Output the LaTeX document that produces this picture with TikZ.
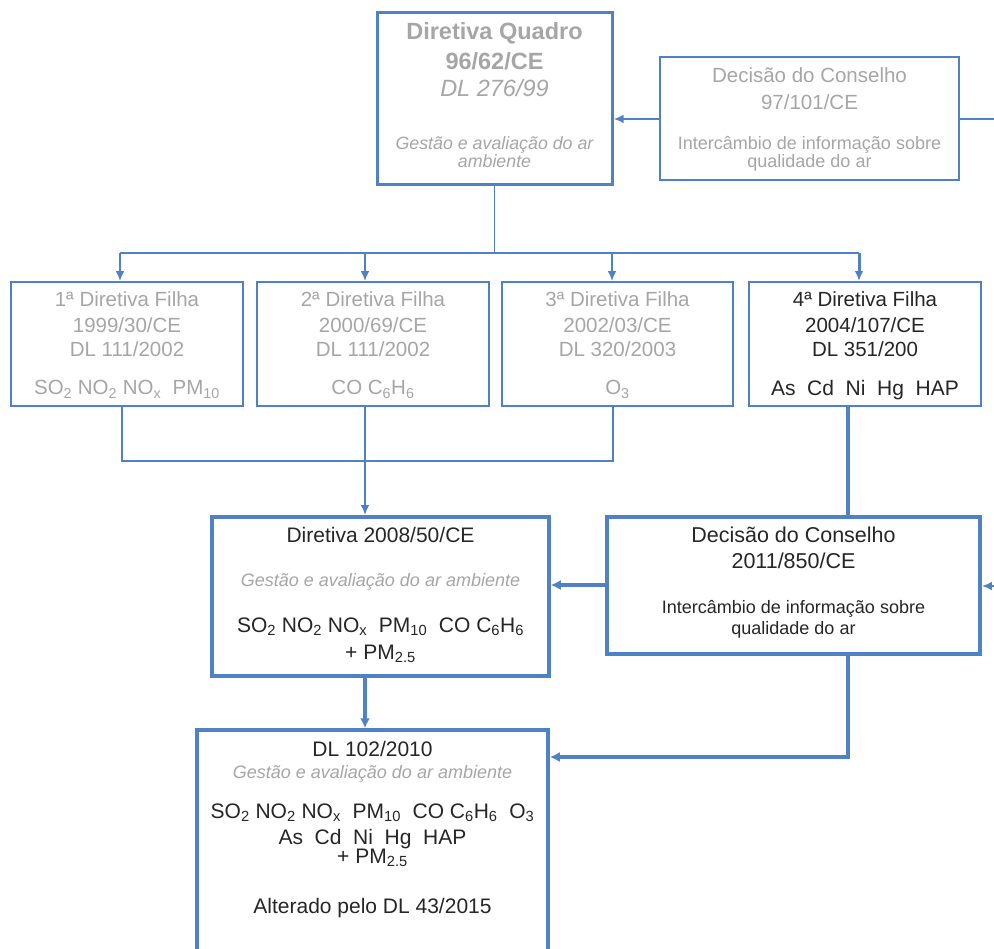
\documentclass[tikz,border=0pt]{standalone}
\usepackage{fontspec}
\setmainfont{Liberation Sans}
\usetikzlibrary{arrows.meta}
\definecolor{lnblue}{RGB}{79,129,199}
\definecolor{txgray}{RGB}{166,166,166}
\definecolor{txdark}{RGB}{38,38,38}
\newcommand\fsz[1]{\fontsize{#1}{#1}\selectfont}
\newcommand\sbs[1]{\textsubscript{#1}}
\begin{document}
\begin{tikzpicture}[x=1pt,y=-1pt,
  thinbox/.style={draw=lnblue,line width=1.5pt,fill=white,inner sep=0pt},
  thickbox/.style={draw=lnblue,line width=3.5pt,fill=white,inner sep=0pt},
  tl/.style={anchor=base,inner sep=0pt},
  gr/.style={tl,text=txgray},
  dk/.style={tl,text=txdark},
  thinln/.style={draw=lnblue,line width=1.5pt},
  thickln/.style={draw=lnblue,line width=3.5pt},
  arr/.style={thinln,line width=2.4pt,-{Latex[length=10pt,width=8.5pt]}},
  arrthick/.style={thickln,-{Latex[length=10pt,width=10pt]}}]
\useasboundingbox (0,0) rectangle (994,949);
\clip (0,0) rectangle (994,949);
\fill[white] (0,0) rectangle (994,949);

% boxes
\node[thickbox,line width=3pt,minimum width=235,minimum height=172] (quadro) at (494.5,99) {};
\node[thinbox,minimum width=299,minimum height=123] (dc97) at (809.5,118.5) {};
\node[thinbox,minimum width=232,minimum height=124] (f1) at (127,344) {};
\node[thinbox,minimum width=232,minimum height=124] (f2) at (373,344) {};
\node[thinbox,minimum width=231,minimum height=124] (f3) at (617.5,344) {};
\node[thinbox,line width=1.8pt,minimum width=232,minimum height=124] (f4) at (865,344) {};
\node[thickbox,minimum width=337,minimum height=159] (d08) at (380.5,596.5) {};
\node[thickbox,minimum width=373,minimum height=137] (d11) at (793.5,585.5) {};
\node[thickbox,minimum width=351,minimum height=240] (dl) at (372.5,850) {};

% texts: Quadro
\node[gr,font=\fsz{23.5}\bfseries] (q1) at (494.5,40) {Diretiva Quadro};
\node[gr,font=\fsz{23.5}\bfseries] (q2) at (494.5,70) {96/62/CE};
\node[gr,font=\fsz{23.5}\itshape] (q3) at (494.5,97) {DL 276/99};
\node[gr,font=\fsz{17.8}\itshape] (q4) at (494.5,150) {Gestão e avaliação do ar};
\node[gr,font=\fsz{17.8}\itshape] (q5) at (494.5,168) {ambiente};
% Decisao 97/101
\node[gr,font=\fsz{20.5}] (c1) at (809.5,83) {Decisão do Conselho};
\node[gr,font=\fsz{20.5}] (c2) at (809.5,110) {97/101/CE};
\node[gr,font=\fsz{18}] (c3) at (809.5,150) {Intercâmbio de informação sobre};
\node[gr,font=\fsz{18}] (c4) at (809.5,168) {qualidade do ar};
% Filhas
\node[gr,font=\fsz{20.5}] (a1) at (127,307) {1ª Diretiva Filha};
\node[gr,font=\fsz{20.5}] (a2) at (127,333) {1999/30/CE};
\node[gr,font=\fsz{20.5}] (a3) at (127,357) {DL 111/2002};
\node[gr,font=\fsz{20.5}] (a4) at (127,395) {SO\sbs{2} NO\sbs{2} NO\sbs{x}\ \ PM\sbs{10}};
\node[gr,font=\fsz{20.5}] (b1) at (373,307) {2ª Diretiva Filha};
\node[gr,font=\fsz{20.5}] (b2) at (373,333) {2000/69/CE};
\node[gr,font=\fsz{20.5}] (b3) at (373,357) {DL 111/2002};
\node[gr,font=\fsz{20.5}] (b4) at (373,395) {CO C\sbs{6}H\sbs{6}};
\node[gr,font=\fsz{20.5}] (e1) at (617.5,307) {3ª Diretiva Filha};
\node[gr,font=\fsz{20.5}] (e2) at (617.5,333) {2002/03/CE};
\node[gr,font=\fsz{20.5}] (e3) at (617.5,357) {DL 320/2003};
\node[gr,font=\fsz{20.5}] (e4) at (617.5,395) {O\sbs{3}};
\node[dk,font=\fsz{20.5}] (g1) at (865,307) {4ª Diretiva Filha};
\node[dk,font=\fsz{20.5}] (g2) at (865,333) {2004/107/CE};
\node[dk,font=\fsz{20.5}] (g3) at (865,357) {DL 351/200};
\node[dk,font=\fsz{21}] (g4) at (865,396) {As\ \ Cd\ \ Ni\ \ Hg\ \ HAP};
% Diretiva 2008
\node[dk,font=\fsz{21}] (h1) at (380.5,543) {Diretiva 2008/50/CE};
\node[gr,font=\fsz{18}\itshape] (h2) at (380.5,586) {Gestão e avaliação do ar ambiente};
\node[dk,font=\fsz{21}] (h3) at (380.5,632) {SO\sbs{2} NO\sbs{2} NO\sbs{x}\ \ PM\sbs{10}\ \ CO C\sbs{6}H\sbs{6}};
\node[dk,font=\fsz{21}] (h4) at (380.5,659) {+ PM\sbs{2.5}};
% Decisao 2011
\node[dk,font=\fsz{21.5}] (k1) at (793.5,543) {Decisão do Conselho};
\node[dk,font=\fsz{21.5}] (k2) at (793.5,568) {2011/850/CE};
\node[dk,font=\fsz{18}] (k3) at (793.5,613) {Intercâmbio de informação sobre};
\node[dk,font=\fsz{18}] (k4t) at (793.5,634) {qualidade do ar};
% DL 102
\node[dk,font=\fsz{21}] (m1) at (372.5,756) {DL 102/2010};
\node[gr,font=\fsz{18}\itshape] (m2) at (372.5,778) {Gestão e avaliação do ar ambiente};
\node[dk,font=\fsz{21}] (m3) at (372.5,818) {SO\sbs{2} NO\sbs{2} NO\sbs{x}\ \ PM\sbs{10}\ \ CO C\sbs{6}H\sbs{6}\ \ O\sbs{3}};
\node[dk,font=\fsz{21}] (m4) at (372.5,844) {As\ \ Cd\ \ Ni\ \ Hg\ \ HAP};
\node[dk,font=\fsz{21}] (m5) at (372.5,863) {+ PM\sbs{2.5}};
\node[dk,font=\fsz{21}] (m6) at (372.5,913) {Alterado pelo DL 43/2015};

% coordinates
\coordinate (bus) at (494.5,253);
\coordinate (busL) at (120,253);
\coordinate (busB) at (365,253);
\coordinate (busC) at (612,253);
\coordinate (busR) at (859,253);
\coordinate (j1) at (122,461);
\coordinate (j2) at (365,461);
\coordinate (j3) at (613,461);
\coordinate (k4) at (848,406);
\coordinate (y119) at (0,119);
\coordinate (y585) at (0,585);
\coordinate (y757) at (0,757);
\coordinate (ra) at (1010,119);
\coordinate (rb) at (1010,586);

% connectors
\draw[thinln] (quadro.south) -- (bus);
\draw[thinln] (busL) -- (busR);
\draw[arr] (busL) -- (busL |- f1.north);
\draw[arr] (busB) -- (busB |- f2.north);
\draw[arr] (busC) -- (busC |- f3.north);
\draw[arr,line width=3pt] (busR) -- (busR |- f4.north);
\draw[arr] (dc97.west |- y119) -- (quadro.east |- y119);
\draw[arr] (dc97.east |- y119) -- (ra) -- (rb) -- (d11.east |- rb);
\draw[thinln] (j1 |- f1.south) -- (j1) -- (j3) -- (j3 |- f3.south);
\draw[thinln] (j2 |- f2.south) -- (j2);
\draw[arr] (j2) -- (j2 |- d08.north);
\draw[thickln] (k4 |- f4.south) -- (k4 |- d11.north);
\draw[arrthick] (d11.west |- y585) -- (d08.east |- y585);
\draw[arrthick] (k4 |- d11.south) -- (k4 |- y757) -- (dl.east |- y757);
\draw[arrthick] (j2 |- d08.south) -- (j2 |- dl.north);
\end{tikzpicture}
\end{document}
